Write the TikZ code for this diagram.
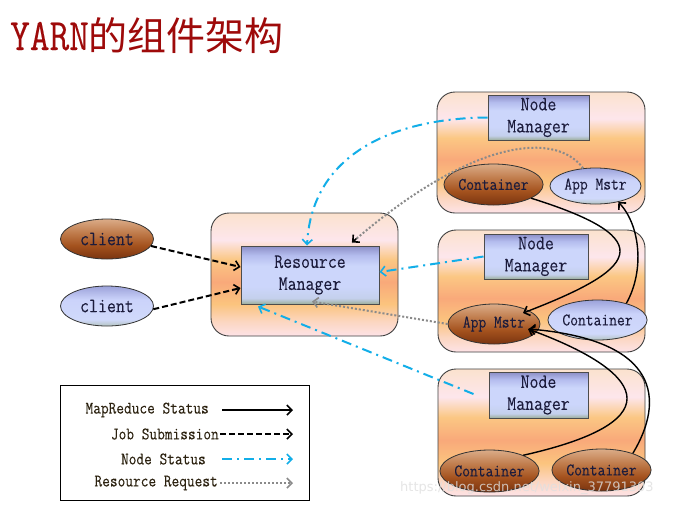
\documentclass[tikz,border=0pt]{standalone}
\usepackage{fontspec}
\setmainfont{Latin Modern Mono}[FakeStretch=0.85,FakeBold=0.1]
\newfontfamily\cjk{Noto Sans CJK SC}
\newfontfamily\wmfont{DejaVu Sans}
\usetikzlibrary{arrows.meta,shapes.geometric}

\definecolor{titlered}{HTML}{9E0A0A}
\definecolor{otop}{HTML}{FBE2CE}
\definecolor{o6}{HTML}{FDE6EC}
\definecolor{o5}{HTML}{FBC783}
\definecolor{o4}{HTML}{F9A97A}
\definecolor{o3}{HTML}{FBC47E}
\definecolor{o2}{HTML}{FCD6C0}
\definecolor{obot}{HTML}{FDE3E7}
\definecolor{itop}{HTML}{8C8EC6}
\definecolor{i2}{HTML}{B4BCEE}
\definecolor{i3}{HTML}{CCD6FB}
\definecolor{i4}{HTML}{C4D0EC}
\definecolor{ibot}{HTML}{9CAE9A}
\definecolor{btop}{HTML}{DBAC88}
\definecolor{b2}{HTML}{C07C4C}
\definecolor{b3}{HTML}{A4521E}
\definecolor{bbot}{HTML}{7A3410}
\definecolor{ltop}{HTML}{9CA2DA}
\definecolor{l2}{HTML}{CBD3FA}
\definecolor{l3}{HTML}{D0D9FB}
\definecolor{lbot}{HTML}{B4C4C0}
\definecolor{txt}{HTML}{1C1C3C}
\definecolor{legtext}{HTML}{2C2210}
\definecolor{nscyan}{HTML}{12AEE8}
\definecolor{rrgray}{HTML}{8A8A8A}

\pgfdeclareverticalshading{outerfill}{100bp}{color(0bp)=(obot); color(25bp)=(obot); color(31bp)=(o2); color(38bp)=(o3); color(47bp)=(o4); color(56bp)=(o5); color(64bp)=(o6); color(75bp)=(otop); color(100bp)=(otop)}
\pgfdeclareverticalshading{innerfill}{100bp}{color(0bp)=(ibot); color(25bp)=(ibot); color(30bp)=(i4); color(40bp)=(i3); color(58bp)=(i3); color(67bp)=(i2); color(75bp)=(itop); color(100bp)=(itop)}
\pgfdeclareverticalshading{brownfill}{100bp}{color(0bp)=(bbot); color(25bp)=(bbot); color(42bp)=(b3); color(58bp)=(b2); color(75bp)=(btop); color(100bp)=(btop)}
\pgfdeclareverticalshading{bluefill}{100bp}{color(0bp)=(lbot); color(25bp)=(lbot); color(33bp)=(l3); color(58bp)=(l2); color(75bp)=(ltop); color(100bp)=(ltop)}

\tikzset{
  outerbox/.style={draw=black!75, line width=0.9pt, rounded corners=18pt, shading=outerfill, inner sep=0pt},
  innerbox/.style={draw=black!70, line width=1pt, shading=innerfill, align=center, text=txt,
    font=\fontsize{20.4}{22}\selectfont, inner sep=0pt},
  brownell/.style={ellipse, draw=black!80, line width=0.8pt, shading=brownfill, text=txt, inner sep=0pt},
  blueell/.style={ellipse, draw=black!80, line width=0.8pt, shading=bluefill, text=txt, inner sep=0pt},
  smalltxt/.style={font=\fontsize{17.8}{19}\selectfont},
  bigtxt/.style={font=\fontsize{20.5}{22}\selectfont},
  legtxt/.style={font=\fontsize{17.6}{19}\selectfont, text=legtext, inner sep=0pt},
  mrarrow/.style={line width=1.4pt, -{Straight Barb[length=5pt,width=10pt,line width=1.6pt]}},
  jobarrow/.style={line width=2pt, dash pattern=on 6pt off 3pt, -{Straight Barb[length=5pt,width=10pt,line width=1.6pt]}},
  nsarrow/.style={nscyan, line width=2pt, dash pattern=on 10pt off 5pt on 2pt off 5pt, -{Straight Barb[length=5pt,width=10pt,line width=1.6pt]}},
  rrline/.style={rrgray, line width=2pt, dash pattern=on 2pt off 2pt},
  rrarrow/.style={rrline, -{Straight Barb[length=5pt,width=10pt,line width=1.6pt]}},
}

\begin{document}
\begin{tikzpicture}[x=1pt,y=-1pt]
\useasboundingbox[fill=white] (0,0) rectangle (684,507);

% title
\node[anchor=base west, inner sep=0pt, text=titlered] (title) at (10,50)
  {\fontsize{45}{47}\selectfont YARN{\cjk\fontsize{39}{40}\selectfont 的组件架构}};

% resource manager
\node[outerbox, minimum width=187pt, minimum height=123pt] (rmbox) at (304.5,274.5) {};
\node[innerbox, minimum width=138pt, minimum height=58pt] (rmin) at (310,275) {Resource\\Manager};

% clients
\node[brownell, minimum width=93pt, minimum height=40pt, bigtxt] (cl1) at (107,239) {client};
\node[blueell, minimum width=93pt, minimum height=40pt, bigtxt] (cl2) at (107,306) {client};

% node manager 1
\node[outerbox, minimum width=208pt, minimum height=121pt] (nm1box) at (541,152.5) {};
\node[innerbox, minimum width=101pt, minimum height=45pt] (nm1in) at (538.5,117.5) {Node\\Manager};
\node[brownell, minimum width=91pt, minimum height=41pt, smalltxt] (c1) at (493.5,184.5) {Container};
\node[blueell, minimum width=91pt, minimum height=36pt, smalltxt] (am1) at (595.5,186) {App Mstr};

% node manager 2
\node[outerbox, minimum width=207pt, minimum height=122pt] (nm2box) at (541.5,291) {};
\node[innerbox, minimum width=104pt, minimum height=45pt] (nm2in) at (536,256.5) {Node\\Manager};
\node[brownell, minimum width=92pt, minimum height=40pt, smalltxt] (am2) at (494,324) {App Mstr};
\node[blueell, minimum width=89pt, minimum height=40pt, smalltxt] (c2) at (597.5,320) {Container};

% node manager 3
\node[outerbox, minimum width=207pt, minimum height=127pt] (nm3box) at (541.5,432.5) {};
\node[innerbox, minimum width=99pt, minimum height=46pt] (nm3in) at (538.5,395) {Node\\Manager};
\node[brownell, minimum width=93pt, minimum height=42pt, smalltxt] (c31) at (489.5,471) {Container};
\node[brownell, minimum width=81pt, minimum height=42pt, smalltxt] (c32) at (601.5,470) {Container};

% job submission
\draw[jobarrow] (cl1.-9) -- ([yshift=8pt]rmin.west);
\draw[jobarrow] (cl2.-4) -- ([yshift=-13pt]rmin.west);

% node status
\draw[nsarrow] (nm1in.west) .. controls (400,118) and (312,150) .. ([xshift=-3pt]rmin.north);
\draw[nsarrow] (nm2in.west) -- ([yshift=3pt]rmin.east);
\draw[nsarrow] ([xshift=-15pt,yshift=1pt]nm3in.west) -- ([xshift=-52pt,yshift=-2pt]rmin.south);

% resource request
\coordinate (rrtip) at ([xshift=42pt,yshift=3pt]rmin.north);
\draw[rrline] (am1.125) .. controls (555,130) and (470,140) .. (rrtip);
\draw[line width=1.4pt, -{Straight Barb[length=5pt,width=10pt,line width=1.6pt]}]
  ([shift={(4.5pt,4pt)}]rrtip) -- (rrtip);
\draw[rrarrow] (am2.west) -- ([xshift=2pt,yshift=3pt]rmin.south);

% mapreduce status
\draw[mrarrow] (c1.-20) .. controls (665,240) and (635,270) .. ([shift={(29pt,11pt)}]am2.center);
\draw[mrarrow] (c2.30) .. controls (645,270) and (640,225) .. (am1.-35);
\draw[mrarrow] (c31.25) .. controls (680,420) and (640,370) .. ([shift={(34pt,-5pt)}]am2.center);
\draw[mrarrow] (c32.28) .. controls (665,400) and (660,340) .. ([shift={(35pt,-5pt)}]am2.center);

% legend
\node[draw=black, line width=0.9pt, minimum width=249pt, minimum height=115pt, inner sep=0pt] (legend) at (184.5,442.5) {};
\node[legtxt, anchor=east] (lg1) at (209,410) {MapReduce Status};
\node[legtxt, anchor=east] (lg2) at (219,434) {Job Submission};
\node[legtxt, anchor=east] (lg3) at (206,459) {Node Status};
\node[legtxt, anchor=east] (lg4) at (218,483) {Resource Request};
\coordinate (lg1s) at (222,410); \coordinate (lg1e) at (293,410);
\coordinate (lg2s) at (220,434); \coordinate (lg2e) at (293,434);
\coordinate (lg3s) at (222,459); \coordinate (lg3e) at (293,459);
\coordinate (lg4s) at (220,483); \coordinate (lg4e) at (293,483);
\draw[mrarrow] (lg1s) -- (lg1e);
\draw[jobarrow] (lg2s) -- (lg2e);
\draw[nsarrow] (lg3s) -- (lg3e);
\draw[rrarrow] (lg4s) -- (lg4e);

% watermark
\node[anchor=west, inner sep=0pt, text=white!75!gray, opacity=0.8, font=\wmfont\fontsize{13}{15}\selectfont] (wm) at (400,488) {https://blog.csdn.net/weixin\_37791303};
\end{tikzpicture}
\end{document}
